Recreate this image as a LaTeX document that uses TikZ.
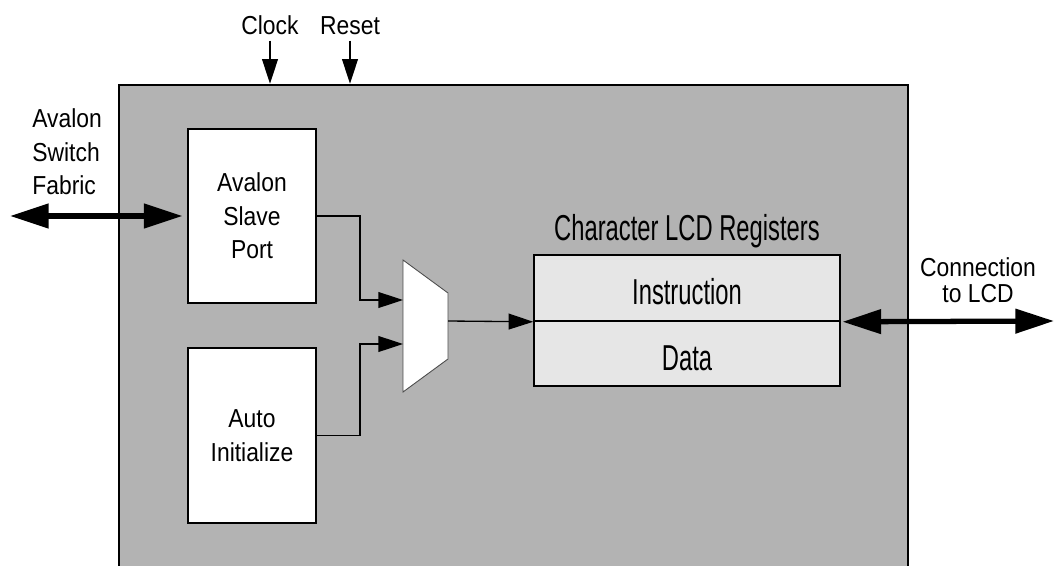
\documentclass[tikz,border=0pt]{standalone}
\usepackage{fontspec}
\setmainfont[FakeStretch=0.88]{Liberation Sans}
\newfontfamily\condfont[FakeStretch=0.66]{Liberation Sans}
\usetikzlibrary{positioning,arrows.meta}
\definecolor{coregray}{HTML}{B3B3B3}
\definecolor{reggray}{HTML}{E6E6E6}

\begin{document}
\begin{tikzpicture}[x=0.02cm,y=-0.02cm,
    txt/.style={font=\fontsize{14.8}{19}\selectfont,align=center,inner sep=0pt},
    big/.style={font=\condfont\fontsize{20.5}{24}\selectfont,inner sep=0pt},
    block/.style={txt,draw,line width=1.2pt,fill=white,minimum width=2.56cm,minimum height=3.48cm},
    reg/.style={big,draw,line width=0.9pt,fill=reggray,minimum width=6.12cm,minimum height=1.32cm,text height=19pt,text depth=0pt},
    sig/.style={line width=0.75pt,-{Triangle[length=14pt,width=9pt]}},
    bus/.style={line width=3pt,{Triangle[length=22pt,width=13.5pt]}-{Triangle[length=22pt,width=13.5pt]}}]
      \useasboundingbox (0,0) rectangle (1055,565);
      % core
      \node[draw,line width=1.5pt,fill=coregray,minimum width=15.78cm,minimum height=10.3cm](core) at (513.5,342.5){};
      \node[block](slave) at (252,216){Avalon\\Slave\\Port};
      \node[block,minimum height=3.5cm](auto) at (252,435.5){Auto\\Initialize};
      \node[reg](instr) at (687,288){Instruction};
      \node[reg,minimum height=1.3cm](data) at (687,353.5){Data};
      \node[big,anchor=base](regtitle) at (687,240){Character LCD Registers};
      % mux
      \coordinate (muxin1) at (403,300);
      \coordinate (muxin2) at (403,344);
      \coordinate (muxout) at (448,321);
      \draw[line width=0.5pt,draw=black!70,fill=white] (403,260) -- (448,293) -- (448,359) -- (403,392) -- cycle;
      % outside labels
      \node[txt,anchor=base](clock) at (270,34){Clock};
      \node[txt,anchor=base](reset) at (350,34){Reset};
      \node[txt,align=left,anchor=west](fabric) at (32,152){Avalon\\Switch\\Fabric};
      \node[txt,font=\fontsize{14.8}{14.5}\selectfont](lcdlabel) at (978,280){Connection\\to LCD};
      \coordinate (fabricend) at (10,216);
      \coordinate (lcdend) at (1054,321);
      % connections
      \draw[sig,shorten <=3.4pt] (clock.south) -- (clock.south |- core.north);
      \draw[sig,shorten <=3.4pt] (reset.south) -- (reset.south |- core.north);
      \draw[sig] (slave.east) -- ++(43,0) |- (muxin1);
      \draw[sig] (auto.east) -- ++(43,0) |- (muxin2);
      \draw[sig] (muxout) -- (instr.south west);
      \draw[bus,shorten >=2.5pt] (fabricend) -- (slave.west);
      \draw[bus,shorten <=1pt] (instr.south east) -- (lcdend);
    \end{tikzpicture}
\end{document}
